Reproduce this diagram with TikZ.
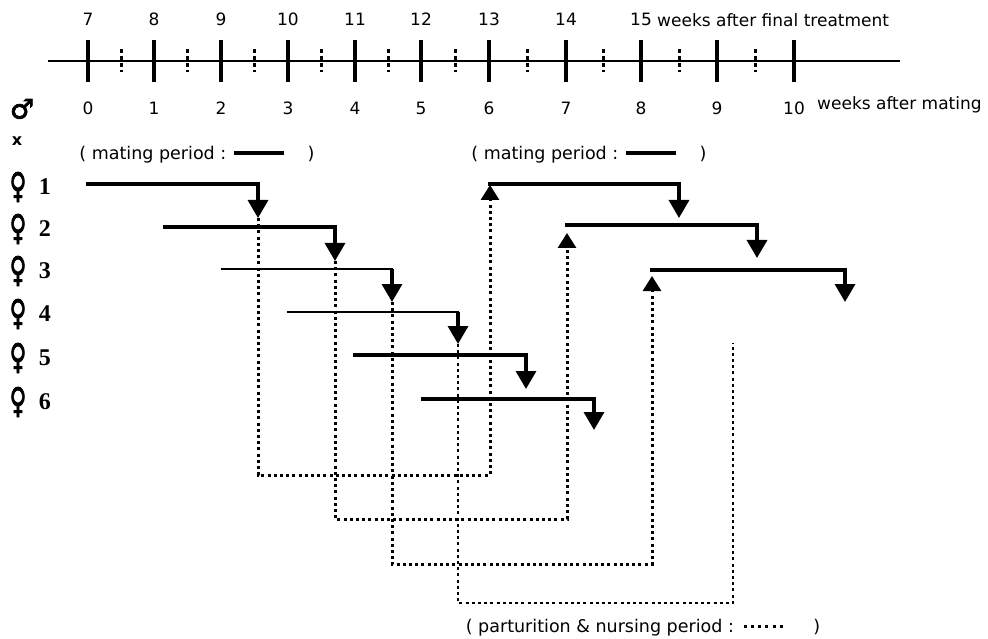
\documentclass[tikz,border=0pt]{standalone}
\usepackage{fontspec}
\setmainfont{DejaVu Sans}
\newfontfamily\damfont{Liberation Serif}
\newfontfamily\sexfont[FakeBold=2.5]{DejaVu Sans}
\usepackage{tikz}
\newcommand*{\linesample}{\rule[0.3em]{50pt}{3.4pt}}
\newcommand*{\dotsample}{\hbox to 44pt{\xleaders\hbox to 6.3pt{\hss\rule[0.28em]{3pt}{3pt}\hss}\hfill}}
\newcommand*{\female}{\scalebox{0.85}[1.3]{♀}}
\usetikzlibrary{arrows.meta, positioning}
\tikzstyle{week} = [font=\fontsize{17}{17}\selectfont, inner sep=0pt]
\tikzstyle{legend} = [font=\fontsize{17.5}{18}\selectfont, inner sep=0pt]
\tikzstyle{sex} = [font=\sexfont\fontsize{27}{27}\selectfont, inner sep=0pt]
\tikzstyle{dam} = [font=\damfont\bfseries\fontsize{24}{24}\selectfont, inner sep=0pt]
\tikzstyle{axis} = [line width=2.2pt]
\tikzstyle{tick} = [line width=4.2pt]
\tikzstyle{half tick} = [line width=3pt, dash pattern=on 4pt off 3pt]
\tikzstyle{mating} = [line cap=rect]
\tikzstyle{drop} = [line width=3.4pt, -{Triangle[length=18pt, width=20pt]}]
\tikzstyle{nursing} = [line width=3pt, dash pattern=on 3pt off 3.2pt]

\begin{document}
\begin{tikzpicture}[x=1pt, y=-1pt]
    \useasboundingbox (0,0) rectangle (988,639);

    % Time axis.
    \node (axis start) [coordinate] at (48,61) {};
    \node (axis end) [coordinate] at (900,61) {};
    \draw [axis] (axis start) -- (axis end);

    % Week ticks and weeks after mating.
    \foreach \x [count=\n from 0] in {88, 154, 221, 288, 355, 421, 489, 566, 641, 717, 794} {%
        \node (week \n) [coordinate] at (\x,61) {};
        \draw [tick] ([yshift=21pt]week \n) -- ([yshift=-21pt]week \n);
        \node (mating week \n) [week, below=41pt of week \n] {\n};
    }

    % Weeks after final treatment.
    \foreach \n in {0, ..., 8} {%
        \pgfmathtruncatemacro{\t}{\n + 7}
        \node (final week \n) [week, above=35pt of week \n] {\t};
    }

    % Half week ticks.
    \foreach \j in {0, ..., 9} {%
        \pgfmathtruncatemacro{\k}{\j + 1}
        \path (week \j) -- (week \k) coordinate [midway] (half \j);
        \draw [half tick] ([yshift=12pt]half \j) -- ([yshift=-11pt]half \j);
    }

    % Axis titles.
    \node (final title) [week, anchor=west] at (657,20) {weeks after final treatment};
    \node (mating title) [week, anchor=west] at (817,105) {weeks after mating};

    % Male and females.
    \node (male) [sex] at (22,109) {♂};
    \node (cross) [font=\bfseries\fontsize{16}{16}\selectfont, inner sep=0pt] at (17,141) {x};
    \foreach \j/\y in {1/187, 2/229, 3/271, 4/314, 5/358, 6/402} {%
        \node (female \j) [sex] at (18,\y) {\female};
        \node (female no \j) [dam, right=12pt of female \j] {\j};
    }

    % Legends.
    \node (mating legend 1) [legend] at (197,155) {( mating period : \linesample\hspace{24pt})};
    \node (mating legend 2) [legend] at (589,155) {( mating period : \linesample\hspace{24pt})};
    \node (nursing legend) [legend] at (643,628) {( parturition \& nursing period : \dotsample\hspace{28pt})};

    % First mating periods.
    \foreach \j/\xs/\y/\xe/\yt/\w in {1/88/184/258/218/3.4, 2/165/227/335/261/3.4,
            3/222/269/392/302/1.8, 4/288/312/458/344/1.8,
            5/355/355/526/389/3.4, 6/423/399/594/430/3.4} {%
        \node (mate start \j) [coordinate] at (\xs,\y) {};
        \node (mate corner \j) [coordinate] at (\xe,\y) {};
        \node (mate end \j) [coordinate] at (\xe,\yt) {};
        \draw [mating, line width=\w pt] (mate start \j) -- (mate corner \j);
        \draw [drop] (mate corner \j) -- (mate end \j);
    }

    % Second mating periods.
    \foreach \j/\xs/\y/\xe/\yt in {1/490/184/679/218, 2/567/225/757/258, 3/652/270/845/302} {%
        \node (remate start \j) [coordinate] at (\xs,\y) {};
        \node (remate corner \j) [coordinate] at (\xe,\y) {};
        \node (remate end \j) [coordinate] at (\xe,\yt) {};
        \draw [mating, line width=3.4pt] (remate start \j) -- (remate corner \j);
        \draw [drop] (remate corner \j) -- (remate end \j);
    }

    % Parturition and nursing periods.
    \foreach \j/\yb/\xr/\yr in {1/475/490/185, 2/519/567/233, 3/564/652/276} {%
        \node (landing \j) [coordinate] at (\xr,\yb) {};
        \node (rise \j) [coordinate] at (\xr,\yr) {};
        \draw [nursing, -{Triangle[length=15pt, width=18pt]}] (mate end \j) |- (landing \j) -- (rise \j);
    }

    \node (landing 4) [coordinate] at (733,603) {};
    \node (rise 4) [coordinate] at (733,343) {};
    \draw [nursing, line width=2.4pt] (mate end 4) |- (landing 4) -- (rise 4);
\end{tikzpicture}
\end{document}
